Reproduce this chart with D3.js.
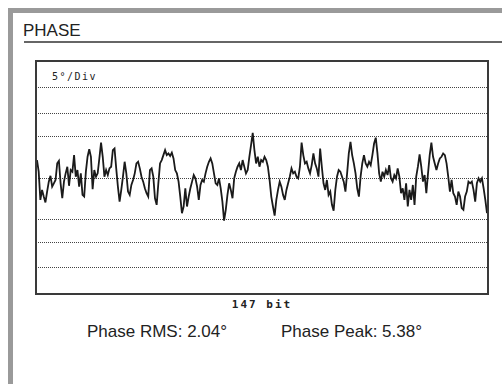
<!DOCTYPE html>
<html>
<head>
<meta charset="utf-8">
<script src="https://cdn.jsdelivr.net/npm/d3@7/dist/d3.min.js"></script>
<style>
  html, body { margin: 0; padding: 0; background: #fff; }
  svg { display: block; }
</style>
</head>
<body>
<svg id="chart" width="502" height="384"></svg>
<script>
// Phase error trace, degrees, one sample per step across the 147-bit burst
const phaseDeg = [
  2.1, 0.7, -2.7, -1.5, -2.3, -3.0, -1.7, -0.5, 0.2, -1.1,
  -0.7, -0.3, 1.7, 2.0, -0.7, -2.5, -0.5, 0.5, 1.3, -1.0,
  0.9, 0.7, 2.7, 0.1, 0.9, -1.1, 0.5, -2.1, -2.3, 0.7,
  2.5, 3.4, 2.5, -1.4, 0.9, 0.1, 0.5, 2.3, 4.2, 2.5,
  0.1, 0.9, 0.3, 1.1, 1.3, 3.3, 3.5, 1.1, -1.1, -2.9,
  -1.5, 0.1, 1.9, 0.5, -1.7, -2.1, -0.9, -0.3, 0.5, 1.7,
  1.9, 1.1, 0.1, -0.5, -1.3, -1.9, -2.3, 0.9, 1.1, 0.1,
  -2.5, -3.3, -0.7, 1.7, 2.1, 2.7, 3.3, 2.7, 2.9, 2.6,
  3.0, 2.3, 0.9, 0.5, -0.5, -2.3, -4.3, -3.5,
  -1.3, -3.5, -2.3, -1.3, -0.5, 0.3, -0.1, -1.1, -2.7, -0.9,
  -0.3, -0.5, 0.5, 1.3, 1.9, 2.3, 1.7, 0.5, -0.7, -0.9,
  -0.1, -1.3, -2.9, -5.2, -3.9, -2.1, -0.7, -1.5, -2.5, -0.1,
  0.7, 1.3, 1.7, 0.9, 2.1, 1.3, 0.5, 0.9, 2.5, 3.9,
  5.38, 3.3, 1.7, 2.5, 1.3, 2.1, 1.9, 2.5, 2.1, 1.3,
  -0.3, -2.3, -3.5, -4.6, -2.7, -1.5, -0.5, -1.1, -2.1, -2.7,
  -1.5, -0.7, 0.1, 1.1, 0.5, 0.7, 0.1, -0.1, 1.3, 4.2,
  2.7, 1.7, 1.9, 1.1, 0.5, 1.5, 2.9, 1.7, 1.1, 0.1,
  3.5, 1.3, -0.7, -1.5, -0.3, -2.1, -1.7, -3.3, -4.0, -1.5,
  0.1, 0.9,
  0.7, 0.1, -0.5, -1.7, 0.5, 2.9, 4.3, 2.7, 1.7, 0.5,
  -1.3, -2.3, 0.1, 1.7, 2.7, 1.7, 1.3, 1.9, 1.5, 2.7,
  4.1, 4.8, 2.9, 0.5, -0.5, 0.7, 0.1, 0.9, 0.3, 1.5,
  -0.1, -0.5, 0.3, -0.1, 1.1, 0.1, -1.9, -1.3, -2.7, -0.7,
  -3.5, -1.5, -2.7, -0.9, -3.3, 0.1, 1.3, 2.8, 1.3, -0.5,
  0.3, -1.9, 0.5, 2.7, 4.2, 2.5, 1.7, 0.9, 1.7, 2.3,
  2.5, 2.9, 2.7, 1.7, 0.1, -1.7, -0.3, -1.9, -2.3, -3.3,
  -1.7, -2.3, -3.7, -3.9, -2.3, -1.7, -0.5, -0.7, -0.5, -1.5,
  -2.9, -0.7, -0.1, -0.5, -0.1, -1.3, -2.7, -4.3
];

// Horizontal graticule levels, degrees
const gridLevels = [10.9, 7.8, 5, 0, -5, -7.8, -10.8];

// Display text
const panelTitle = "PHASE";
const scaleLabel = "5°/Div";
const spanLabel = "147 bit";
const phaseRms = 2.04;
const phasePeak = 5.38;

const svg = d3.select("#chart");

// Instrument panel frame (open on the right and bottom)
svg.append("rect").attr("x", 8).attr("y", 8).attr("width", 494).attr("height", 5).attr("fill", "#9a9a9a");
svg.append("rect").attr("x", 8).attr("y", 8).attr("width", 5).attr("height", 376).attr("fill", "#9a9a9a");

// Panel title and rule
svg.append("text")
  .attr("x", 23).attr("y", 36)
  .attr("font-family", "Liberation Sans, Arial, sans-serif")
  .attr("font-size", 17)
  .attr("fill", "#222")
  .text(panelTitle);
svg.append("line")
  .attr("x1", 24).attr("x2", 502).attr("y1", 42).attr("y2", 42)
  .attr("stroke", "#333").attr("stroke-width", 1.5);

// Plot area
const plotLeft = 36, plotRight = 488, plotTop = 61, plotBottom = 294;

const x = d3.scaleLinear().domain([0, phaseDeg.length - 1]).range([plotLeft + 1, plotRight - 1]);
const y = d3.scaleLinear().domain([-14.05, 14.05]).range([plotBottom, plotTop]);

// Dotted graticule
const grid = d3.axisLeft(y)
  .tickValues(gridLevels)
  .tickSize(-(plotRight - plotLeft))
  .tickFormat("");
const gridG = svg.append("g")
  .attr("transform", `translate(${plotLeft},0)`)
  .call(grid);
gridG.select(".domain").remove();
gridG.selectAll(".tick line")
  .attr("stroke", "#444")
  .attr("stroke-width", 1)
  .attr("stroke-dasharray", "1,1")
  .attr("shape-rendering", "crispEdges");

// Phase trace
const line = d3.line()
  .x((d, i) => x(i))
  .y(d => y(d));
svg.append("path")
  .datum(phaseDeg)
  .attr("d", line)
  .attr("fill", "none")
  .attr("stroke", "#1a1a1a")
  .attr("stroke-width", 1.8)
  .attr("stroke-linejoin", "miter");

// Plot border
svg.append("rect")
  .attr("x", plotLeft).attr("y", plotTop)
  .attr("width", plotRight - plotLeft).attr("height", plotBottom - plotTop)
  .attr("fill", "none")
  .attr("stroke", "#3a3a3a")
  .attr("stroke-width", 2);

// Vertical scale annotation
svg.append("text")
  .attr("x", 52).attr("y", 80)
  .attr("font-family", "DejaVu Sans Mono, monospace")
  .attr("font-size", 10)
  .attr("letter-spacing", 1.5)
  .attr("fill", "#222")
  .text(scaleLabel);

// Horizontal span annotation
svg.append("text")
  .attr("x", (plotLeft + plotRight) / 2).attr("y", 308)
  .attr("text-anchor", "middle")
  .attr("font-family", "DejaVu Sans Mono, monospace")
  .attr("font-weight", "bold")
  .attr("font-size", 11)
  .attr("letter-spacing", 2)
  .attr("fill", "#222")
  .text(spanLabel);

// Summary readouts
svg.append("text")
  .attr("x", 87).attr("y", 337)
  .attr("font-family", "Liberation Sans, Arial, sans-serif")
  .attr("font-size", 17)
  .attr("fill", "#222")
  .text(`Phase RMS: ${phaseRms.toFixed(2)}°`);
svg.append("text")
  .attr("x", 281).attr("y", 337)
  .attr("font-family", "Liberation Sans, Arial, sans-serif")
  .attr("font-size", 17)
  .attr("fill", "#222")
  .text(`Phase Peak: ${phasePeak.toFixed(2)}°`);
</script>
</body>
</html>
